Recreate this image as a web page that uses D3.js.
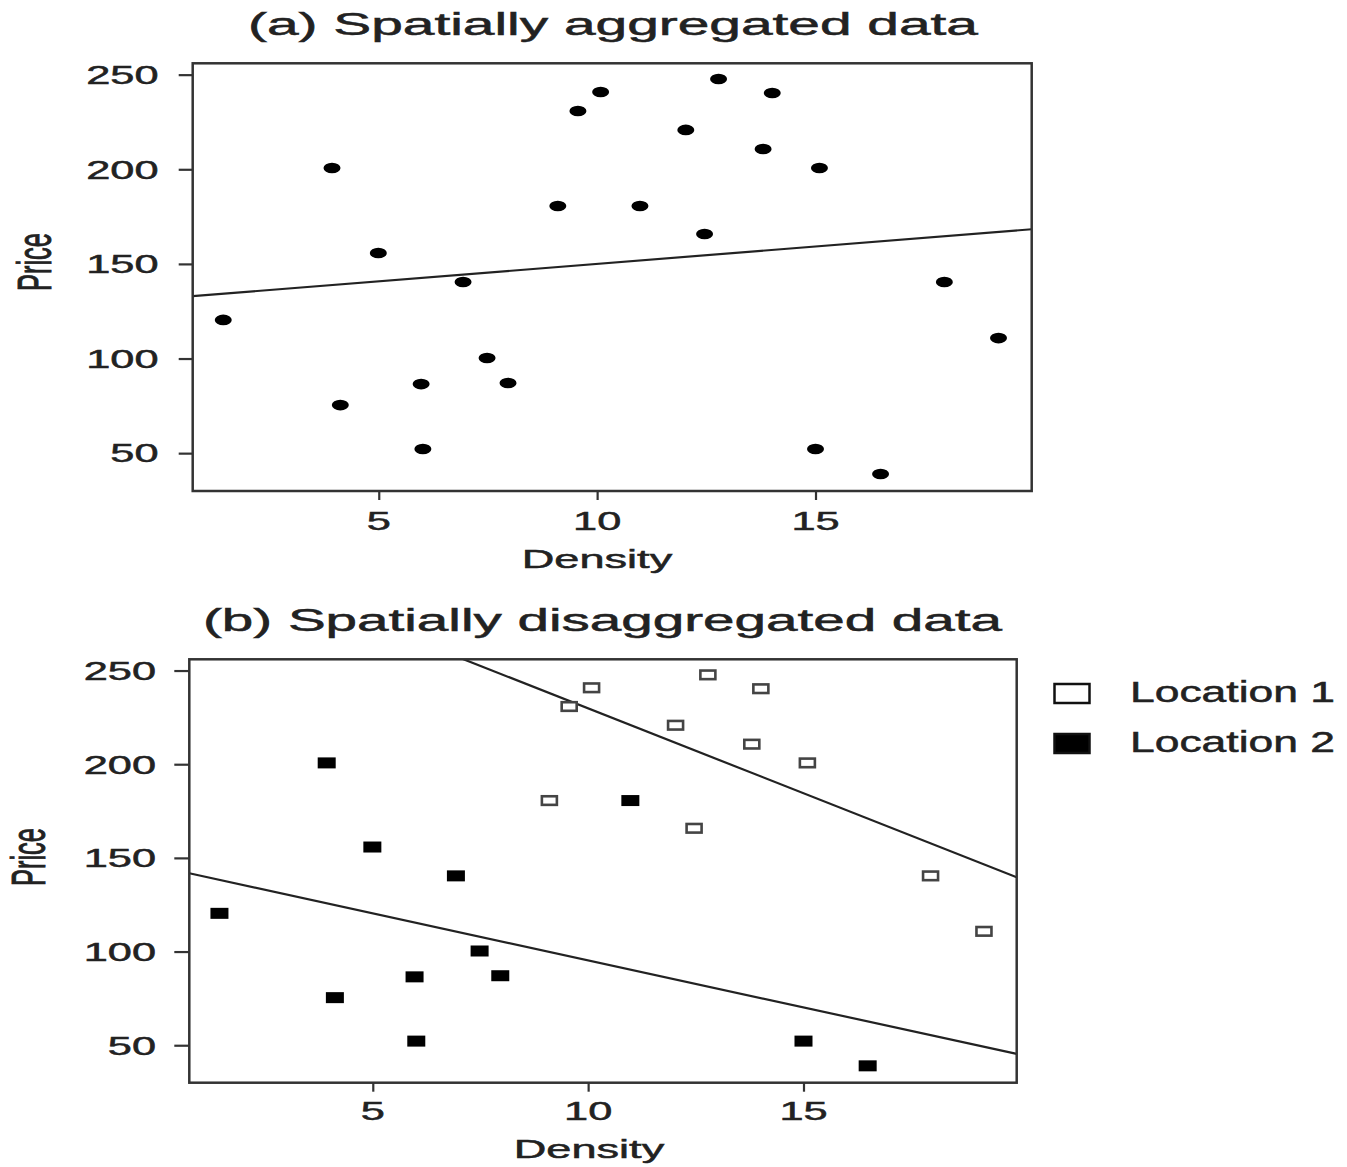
<!DOCTYPE html>
<html>
<head>
<meta charset="utf-8">
<script src="https://cdn.jsdelivr.net/npm/d3@7"></script>
<style>
  body { margin: 0; background: #fff; }
  text { font-family: "Liberation Sans", Arial, sans-serif; fill: #222; stroke: #222; stroke-width: 0.5px; }
</style>
</head>
<body>
<div id="chart"></div>
<script>
// values
var density = [1.44, 3.93, 4.12, 4.99, 5.97, 6.01, 6.93, 7.48, 7.96, 9.10, 9.56, 10.08,
               10.98, 12.03, 12.46, 12.78, 13.80, 14.01, 15.09, 15.00, 16.49, 17.95, 19.19];
var price = [120.4, 200.7, 75.4, 155.8, 86.5, 52.2, 140.4, 100.3, 87.1, 180.6, 230.8, 240.8,
             180.6, 220.8, 165.8, 247.7, 210.7, 240.3, 200.7, 52.2, 39.0, 140.4, 110.8];
var site = [2, 2, 2, 2, 2, 2, 2, 2, 2, 1, 1, 1,
            2, 1, 1, 1, 1, 1, 1, 2, 2, 1, 1];
var xTicks = [5, 10, 15];
var yTicks = [50, 100, 150, 200, 250];
var legendLabels = ["Location 1", "Location 2"];
// fitted lines (intercept, slope)
var fitAll = [131.6, 1.84];
var fitLoc1 = [320.4, -9.06];
var fitLoc2 = [145.5, -5.02];

var points = density.map(function(d, i) { return {x: d, y: price[i], loc: site[i]}; });

var W = 1347, H = 1167;
var svg = d3.select("#chart").append("svg")
    .attr("width", W).attr("height", H);

// the picture is stretched sideways, so text is drawn wider than tall
function stretchText(g, str, x, y, size, sx, anchor) {
  return g.append("text")
      .attr("transform", "translate(" + x + "," + y + ") scale(" + sx + ",1)")
      .attr("text-anchor", anchor || "middle")
      .style("font-size", size + "px")
      .text(str);
}

var panels = [
  {title: "(a) Spatially aggregated data", titleX: 613, titleY: 35, titleLen: 730,
   left: 192.7, right: 1031.7, top: 63.3, bottom: 491,
   yLabX: 51, yLabY: 262, xLabX: 597, xLabY: 568, tickLabY: 530, yLabRight: 158.5, yTick: 14},
  {title: "(b) Spatially disaggregated data", titleX: 602.5, titleY: 631, titleLen: 799,
   left: 189.3, right: 1016.7, top: 659.3, bottom: 1082.7,
   yLabX: 45, yLabY: 857, xLabX: 589, xLabY: 1158, tickLabY: 1120, yLabRight: 156, yTick: 15}
];

panels.forEach(function(p, k) {
  var x = d3.scaleLinear().domain([0.74, 19.95]).range([p.left, p.right]);
  var y = d3.scaleLinear().domain([30, 256]).range([p.bottom, p.top]);
  var g = svg.append("g");

  g.append("text")
      .attr("x", p.titleX - p.titleLen / 2).attr("y", p.titleY)
      .attr("textLength", p.titleLen).attr("lengthAdjust", "spacingAndGlyphs")
      .style("font-size", "31px")
      .text(p.title);

  // axes
  var ax = g.append("g")
      .attr("transform", "translate(0," + p.bottom + ")")
      .call(d3.axisBottom(x).tickValues(xTicks).tickSize(9).tickSizeOuter(0));
  ax.select(".domain").remove();
  ax.selectAll("line").attr("stroke", "#333").attr("stroke-width", 2.2);
  ax.selectAll("text").remove();
  xTicks.forEach(function(t) {
    stretchText(g, String(t), x(t), p.tickLabY, 25.5, 1.7, "middle");
  });

  var ay = g.append("g")
      .attr("transform", "translate(" + p.left + ",0)")
      .call(d3.axisLeft(y).tickValues(yTicks).tickSize(p.yTick).tickSizeOuter(0));
  ay.select(".domain").remove();
  ay.selectAll("line").attr("stroke", "#333").attr("stroke-width", 2.2);
  ay.selectAll("text").remove();
  yTicks.forEach(function(t) {
    stretchText(g, String(t), p.yLabRight, y(t) + 9.3, 25.5, 1.7, "end");
  });

  stretchText(g, "Density", p.xLabX, p.xLabY, 25.5, 1.77, "middle");
  g.append("text")
      .attr("transform", "translate(" + p.yLabX + "," + p.yLabY + ") scale(1.9,1) rotate(-90)")
      .attr("text-anchor", "middle")
      .style("font-size", "25.5px")
      .text("Price");

  // plot area
  var clipId = "clip" + k;
  svg.append("clipPath").attr("id", clipId)
    .append("rect")
      .attr("x", p.left).attr("y", p.top)
      .attr("width", p.right - p.left).attr("height", p.bottom - p.top);

  var line = d3.line().x(function(d) { return x(d[0]); }).y(function(d) { return y(d[1]); });
  var fits = k === 0 ? [fitAll] : [fitLoc1, fitLoc2];
  fits.forEach(function(f) {
    var xs = x.domain();
    g.append("path")
        .attr("clip-path", "url(#" + clipId + ")")
        .attr("d", line(xs.map(function(v) { return [v, f[0] + f[1] * v]; })))
        .attr("fill", "none").attr("stroke", "#222").attr("stroke-width", 2.2);
  });

  if (k === 0) {
    g.selectAll("ellipse.pt").data(points).enter().append("ellipse")
        .attr("cx", function(d) { return x(d.x); })
        .attr("cy", function(d) { return y(d.y); })
        .attr("rx", 8.5).attr("ry", 5.3)
        .attr("fill", "#000");
  } else {
    g.selectAll("rect.pt").data(points).enter().append("rect")
        .attr("x", function(d) { return x(d.x) - (d.loc === 2 ? 9 : 7.5); })
        .attr("y", function(d) { return y(d.y) - (d.loc === 2 ? 5.5 : 4.3); })
        .attr("width", function(d) { return d.loc === 2 ? 18 : 15; })
        .attr("height", function(d) { return d.loc === 2 ? 11 : 8.6; })
        .attr("fill", function(d) { return d.loc === 2 ? "#000" : "#fff"; })
        .attr("stroke", function(d) { return d.loc === 2 ? "none" : "#444"; })
        .attr("stroke-width", 2.6);
  }

  g.append("rect")
      .attr("x", p.left).attr("y", p.top)
      .attr("width", p.right - p.left).attr("height", p.bottom - p.top)
      .attr("fill", "none").attr("stroke", "#333").attr("stroke-width", 2.5);
});

// legend for panel (b)
var leg = svg.append("g");
legendLabels.forEach(function(lab, i) {
  var yy = 684 + i * 50;
  leg.append("rect")
      .attr("x", 1054.5).attr("y", yy)
      .attr("width", 35).attr("height", 19)
      .attr("fill", i === 0 ? "#fff" : "#000")
      .attr("stroke", "#111").attr("stroke-width", 2.5);
  leg.append("text")
      .attr("x", 1130).attr("y", yy + 18)
      .attr("textLength", 205).attr("lengthAdjust", "spacingAndGlyphs")
      .style("font-size", "29px")
      .text(lab);
});
</script>
</body>
</html>
